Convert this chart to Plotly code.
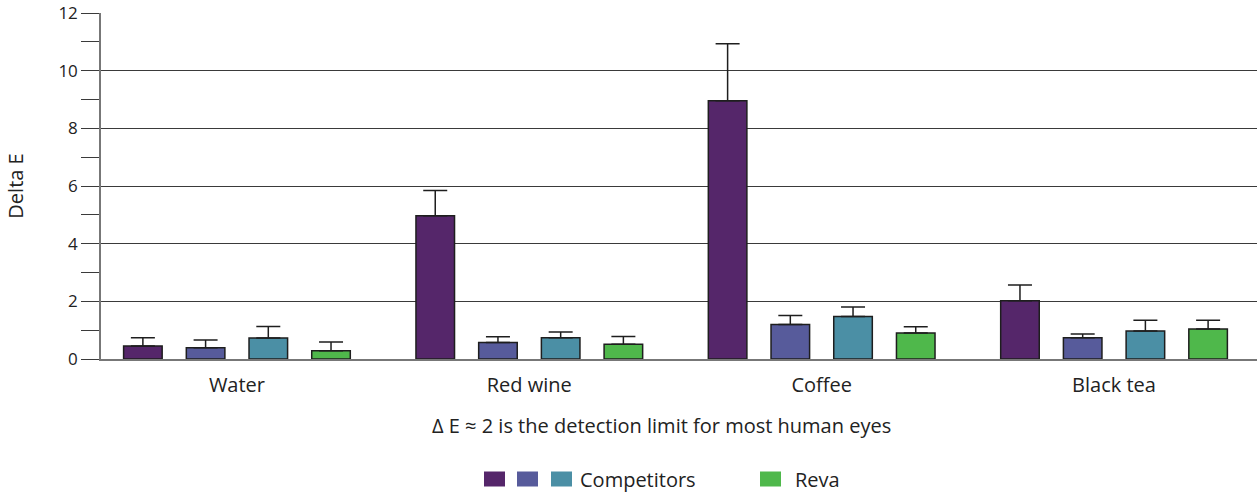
import plotly.graph_objects as go

# Stain test results: colour change (Delta E) after exposure, mean and upper error
categories = ["Water", "Red wine", "Coffee", "Black tea"]

competitor_1 = [0.45, 4.97, 8.96, 2.02]
competitor_1_err = [0.29, 0.87, 1.97, 0.55]

competitor_2 = [0.39, 0.57, 1.20, 0.74]
competitor_2_err = [0.27, 0.20, 0.31, 0.13]

competitor_3 = [0.73, 0.74, 1.47, 0.97]
competitor_3_err = [0.40, 0.20, 0.33, 0.37]

reva = [0.29, 0.51, 0.90, 1.04]
reva_err = [0.30, 0.27, 0.22, 0.30]

series_names = ["Competitor A", "Competitor B", "Competitor C", "Reva"]
series_colors = ["#55266A", "#575B9B", "#4B8FA5", "#4FB84B"]

y_ticks = [0, 2, 4, 6, 8, 10, 12]

FONT = "'Open Sans', sans-serif"
TEXT = "#222222"
LINE = "#3a3a3a"
LABEL_SIZE = 20
TICK_SIZE = 17

fig = go.Figure()
for name, vals, errs, color in zip(
    series_names,
    [competitor_1, competitor_2, competitor_3, reva],
    [competitor_1_err, competitor_2_err, competitor_3_err, reva_err],
    series_colors,
):
    fig.add_trace(
        go.Bar(
            name=name,
            x=categories,
            y=vals,
            marker=dict(color=color, line=dict(color="#1e1e1e", width=1.5)),
            error_y=dict(
                type="data",
                symmetric=False,
                array=errs,
                arrayminus=[0] * len(errs),
                color="#1e1e1e",
                thickness=1.5,
                width=12,
            ),
            showlegend=False,
        )
    )

fig.update_layout(
    width=1257,
    height=494,
    margin=dict(l=101, r=0, t=13, b=135),
    paper_bgcolor="white",
    plot_bgcolor="white",
    barmode="group",
    bargap=0.142,
    bargroupgap=0.385,
    font=dict(family=FONT, size=LABEL_SIZE, color=TEXT),
    xaxis=dict(
        range=[-0.465, 3.489],
        showline=True,
        linecolor="#777777",
        linewidth=1.5,
        ticks="",
        showgrid=False,
        ticklabelstandoff=7,
        tickfont=dict(size=LABEL_SIZE, color=TEXT),
    ),
    yaxis=dict(
        range=[0, 12],
        tickvals=y_ticks,
        showline=True,
        linecolor="#777777",
        linewidth=1.5,
        ticks="outside",
        ticklen=18,
        tickcolor=LINE,
        tickwidth=1,
        showgrid=True,
        gridcolor=LINE,
        gridwidth=1,
        zeroline=False,
        minor=dict(dtick=1, ticks="outside", ticklen=18, tickcolor=LINE, tickwidth=1, showgrid=False),
        tickfont=dict(size=TICK_SIZE, color=TEXT),
        title=dict(text="Delta E", font=dict(size=LABEL_SIZE, color=TEXT), standoff=29),
    ),
)

# Footnote under the category labels
fig.add_annotation(
    text="\u0394 E \u2248 2 is the detection limit for most human eyes",
    xref="paper", yref="paper", x=(661 - 101) / 1156, y=-(425 - 359) / 346,
    showarrow=False, xanchor="center", yanchor="middle",
    font=dict(family=FONT, size=LABEL_SIZE, color=TEXT),
)

# Custom legend: three competitor swatches share one label, Reva has its own
legend_y = -(479 - 359) / 346
sw_h = 15 / 346
swatches = [(484, series_colors[0]), (517, series_colors[1]), (551, series_colors[2]), (760, series_colors[3])]
for left, color in swatches:
    fig.add_shape(
        type="rect", xref="paper", yref="paper",
        x0=(left - 101) / 1156, x1=(left + 21 - 101) / 1156,
        y0=legend_y - sw_h / 2, y1=legend_y + sw_h / 2,
        fillcolor=color, line=dict(width=0),
    )
for label, left in [("Competitors", 578), ("Reva", 793)]:
    fig.add_annotation(
        text=label, xref="paper", yref="paper",
        x=(left - 101) / 1156, y=legend_y,
        showarrow=False, xanchor="left", yanchor="middle",
        font=dict(family=FONT, size=LABEL_SIZE, color=TEXT),
    )

fig.write_html("out.html")
